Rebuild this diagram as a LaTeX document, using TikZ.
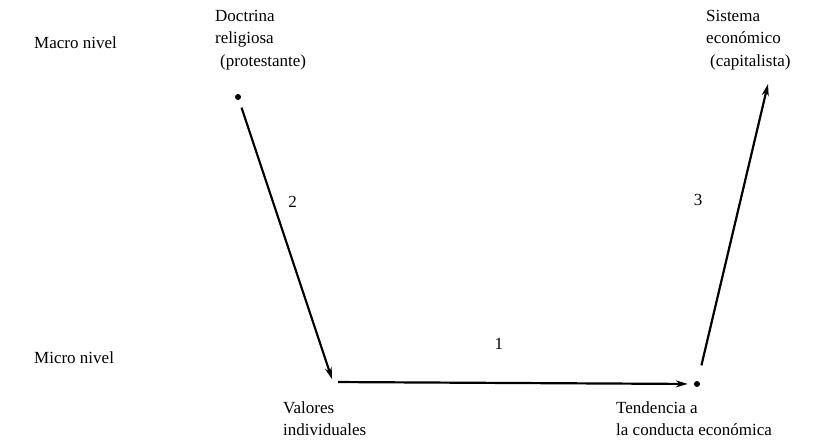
\documentclass[tikz,border=0pt]{standalone}
\usepackage{fontspec}
\setmainfont{Liberation Serif}
\usetikzlibrary{arrows.meta,positioning}
\begin{document}
\begin{tikzpicture}[x=1pt,y=-1pt,
  lbl/.style={font=\fontsize{17}{22.5}\selectfont, align=left, inner sep=0pt, anchor=base west},
  blk/.style={lbl, anchor=north west},
  dot/.style={circle, fill, inner sep=0pt, minimum size=6pt},
  arr/.style={-{Stealth[length=12pt,width=7pt]}, line width=2.2pt}]
  \useasboundingbox (0,0) rectangle (834,445);
  \node[lbl] (macro) at (34,48) {Macro nivel};
  \node[lbl] (micro) at (34,363) {Micro nivel};
  \node[blk] (doctrina) at (215,10) {Doctrina\\religiosa\\\hspace*{5pt}(protestante)};
  \node[blk] (sistema) at (706,10) {Sistema\\económico\\\hspace*{4pt}(capitalista)};
  \node[blk] (valores) at (283,401) {Valores\\individuales};
  \node[blk] (tendencia) at (616,401) {Tendencia a\\la conducta económica};
  \node[dot] (doc) at (238,97) {};
  \node[dot] (ten) at (697,384) {};
  \coordinate (val) at (333,382);
  \coordinate (sis) at (768,84);
  \draw[arr, shorten <=8pt, shorten >=3pt] (doc) -- node[lbl, anchor=base, pos=0.38, xshift=18pt] {2} (val);
  \draw[arr, shorten <=5pt, shorten >=6pt] (val) -- node[lbl, anchor=base, pos=0.46, yshift=33pt] {1} (ten);
  \draw[arr, shorten <=16pt] (ten) -- node[lbl, anchor=base, pos=0.59, xshift=-41pt] {3} (sis);
\end{tikzpicture}
\end{document}
